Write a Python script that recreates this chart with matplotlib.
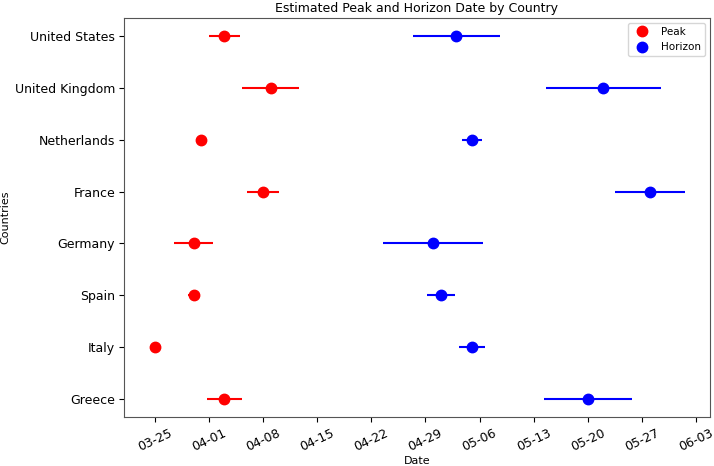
import datetime as dt

import matplotlib
matplotlib.use('Agg')
import matplotlib.dates as mdates
import matplotlib.pyplot as plt
import numpy as np
from matplotlib.lines import Line2D

# countries from bottom to top
countries = ['Greece', 'Italy', 'Spain', 'Germany', 'France', 'Netherlands', 'United Kingdom', 'United States']

# days after 2020-03-25
peak_days = [9.0, 0.0, 5.0, 5.0, 14.0, 6.0, 15.0, 9.0]
peak_err = [2.25, 0.0, 0.7, 2.5, 2.1, 0.0, 3.7, 2.0]
horizon_days = [56.0, 41.0, 37.0, 36.0, 64.0, 41.0, 58.0, 39.0]
horizon_err = [5.65, 1.7, 1.8, 6.45, 4.5, 1.25, 7.45, 5.6]

base = mdates.date2num(dt.datetime(2020, 3, 25))
y = np.arange(len(countries))

fig = plt.figure(figsize=(7.14, 4.66), dpi=100)
ax = fig.add_axes([0.173, 0.1045, 0.822, 0.8575])

ax.errorbar(base + np.array(peak_days), y, xerr=peak_err, fmt='o', color='red',
            markersize=7.5, elinewidth=1.5, label='Peak')
ax.errorbar(base + np.array(horizon_days), y, xerr=horizon_err, fmt='o', color='blue',
            markersize=7.5, elinewidth=1.5, label='Horizon')

ax.set_yticks(y)
ax.set_yticklabels(countries, fontsize=9)
ax.tick_params(axis='y', pad=2.5)
ax.set_ylim(-0.35, 7.35)
ax.set_xlim(base - 4.05, base + 71.85)

ax.set_xticks(base + np.arange(0, 71, 7))
ax.xaxis.set_major_formatter(mdates.DateFormatter('%m-%d'))
plt.setp(ax.get_xticklabels(), rotation=25, fontsize=9)

for s in ax.spines.values():
    s.set_color('#555555')

ax.set_xlabel('Date', fontsize=8, labelpad=1)
ax.set_ylabel('Countries', fontsize=8, labelpad=3)
ax.set_title('Estimated Peak and Horizon Date by Country', fontsize=9, pad=4)

# legend handles without error bars
handles = [Line2D([], [], marker='o', color='red', linestyle='', markersize=7.5),
           Line2D([], [], marker='o', color='blue', linestyle='', markersize=7.5)]
ax.legend(handles, ['Peak', 'Horizon'], loc='upper right', fontsize=7.5)

fig.savefig('out.png', dpi=100)
